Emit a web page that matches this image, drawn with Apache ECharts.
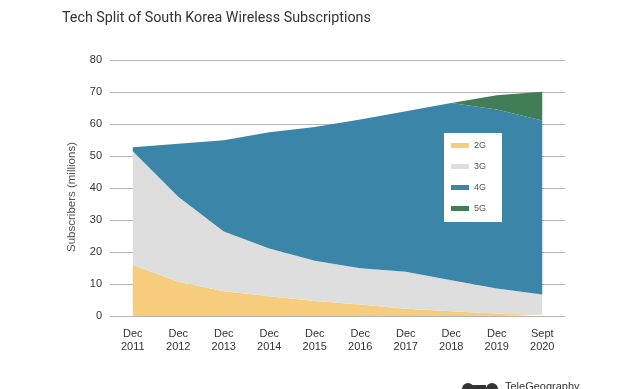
<!DOCTYPE html>
<html>
<head>
<meta charset="utf-8">
<script src="https://cdn.jsdelivr.net/npm/echarts@6/dist/echarts.min.js"></script>
<style>html,body{margin:0;padding:0;background:#fff;}#c{width:640px;height:389px;}</style>
</head>
<body>
<div id="c"></div>
<script>
const categories = ['Dec\n2011','Dec\n2012','Dec\n2013','Dec\n2014','Dec\n2015','Dec\n2016','Dec\n2017','Dec\n2018','Dec\n2019','Sept\n2020'];
const yTicks = [0,10,20,30,40,50,60,70,80];
const g2 = [15.9, 10.7, 7.7, 6.2, 4.7, 3.6, 2.3, 1.5, 0.8, 0.4];
const g3 = [35.6, 26.6, 18.7, 14.9, 12.6, 11.3, 11.5, 9.7, 7.8, 6.3];
const g4 = [1.2, 16.5, 28.5, 36.3, 41.8, 46.5, 50.2, 55.4, 55.9, 54.4];
const g5 = ['-', '-', '-', '-', '-', '-', '-', 0, 4.5, 9.0];
const names = ['2G','3G','4G','5G'];
const colors = ['#f5cd7c','#dedede','#3b86a8','#417e55'];
const seriesData = [g2,g3,g4,g5];

const chart = echarts.init(document.getElementById('c'));
chart.setOption({
  animation: false,
  title: {
    text: 'Tech Split of South Korea Wireless Subscriptions',
    left: 57, top: 6,
    textStyle: {fontFamily: 'Roboto', fontSize: 14.3, fontWeight: 'normal', color: '#333'}
  },
  grid: {left: 110, right: 75, top: 60, bottom: 73},
  legend: {
    orient: 'vertical', left: 444, top: 133,
    backgroundColor: '#fff',
    padding: [8, 16, 9, 7],
    itemWidth: 18, itemHeight: 5, itemGap: 12,
    icon: 'rect',
    data: names,
    textStyle: {fontFamily: 'Liberation Sans', fontSize: 9, color: '#555'}
  },
  xAxis: {
    type: 'category', data: categories, boundaryGap: true,
    axisLine: {show: false}, axisTick: {show: false},
    axisLabel: {margin: 11, fontFamily: 'Liberation Sans', fontSize: 11, color: '#333', lineHeight: 13, interval: 0}
  },
  yAxis: {
    type: 'value', min: yTicks[0], max: yTicks[yTicks.length-1], interval: 10,
    axisLine: {show: false}, axisTick: {show: false},
    axisLabel: {margin: 8, fontFamily: 'Liberation Sans', fontSize: 11, color: '#333'},
    splitLine: {lineStyle: {color: '#b5b5b5', width: 1}}
  },
  series: names.map((n, i) => ({
    name: n, type: 'line', stack: 'total', data: seriesData[i],
    symbol: 'none', smooth: false,
    lineStyle: {width: 0, color: colors[i]},
    itemStyle: {color: colors[i]},
    areaStyle: {color: colors[i], opacity: 1}
  })),
  graphic: [
    {type: 'text', x: 72, y: 197, rotation: Math.PI / 2,
      style: {text: 'Subscribers (millions)', fontFamily: 'Liberation Sans', fontSize: 11.5, fill: '#555', align: 'center', verticalAlign: 'middle'}},
    {type: 'circle', shape: {cx: 468, cy: 389, r: 6}, style: {fill: '#333'}},
    {type: 'rect', shape: {x: 472, y: 385, width: 14, height: 4}, style: {fill: '#333'}},
    {type: 'circle', shape: {cx: 492, cy: 389, r: 6}, style: {fill: '#333'}},
    {type: 'text', left: 505, top: 381, style: {text: 'TeleGeography', fontFamily: 'Liberation Sans', fontSize: 11, fill: '#333'}}
  ]
});
</script>
</body>
</html>
